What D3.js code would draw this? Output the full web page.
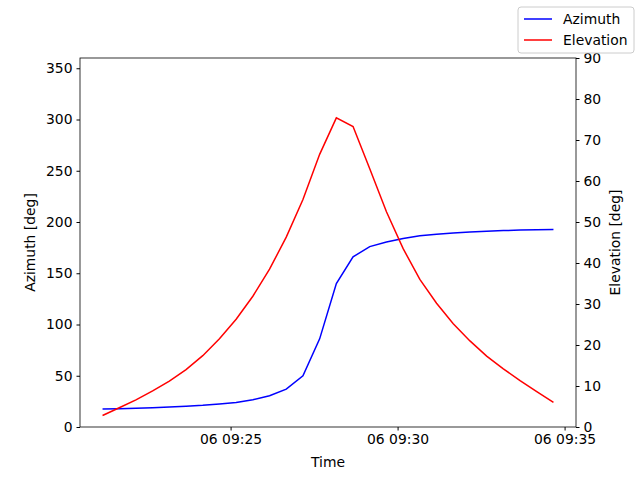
<!DOCTYPE html>
<html><head><meta charset="utf-8">
<script src="https://cdn.jsdelivr.net/npm/d3@7"></script>
<style>
body{margin:0;background:#fff;}
text{font-family:"DejaVu Sans",sans-serif;}
</style></head>
<body><svg id="chart" width="640" height="480"></svg>
<script>
// samples every 30 s starting 06 09:21:10
const startTime = new Date(2024, 0, 6, 9, 21, 10);
const stepSeconds = 30;
const azimuth = [17.5,17.8,18.3,18.8,19.5,20.3,21.2,22.5,24,26.5,30.5,37,50,86,140,166,176,180.5,184,186.5,188,189.3,190.3,191,191.6,192.1,192.5,192.8];
const elevation = [2.8,4.7,6.6,8.8,11.2,14,17.4,21.5,26.3,31.9,38.5,46.3,55.5,66.5,75.4,73.3,63,52.5,43.5,36,30.2,25.2,21,17.3,14.2,11.3,8.6,6.0];
const azTicks = [0,50,100,150,200,250,300,350];
const elTicks = [0,10,20,30,40,50,60,70,80,90];
const timeTicks = [new Date(2024,0,6,9,25), new Date(2024,0,6,9,30), new Date(2024,0,6,9,35)];

const times = azimuth.map((_, i) => new Date(startTime.getTime() + i * stepSeconds * 1000));
const data = times.map((t, i) => ({t, az: azimuth[i], el: elevation[i]}));

const margin = {top: 58, right: 64, bottom: 53, left: 80};
const width = 640, height = 480;
const iw = width - margin.left - margin.right, ih = height - margin.top - margin.bottom;
const svg = d3.select("#chart");
const g = svg.append("g").attr("transform", `translate(${margin.left},${margin.top})`);

const ext = d3.extent(times);
const pad = (ext[1] - ext[0]) * 0.05;
const x = d3.scaleTime().domain([ext[0] - pad, +ext[1] + pad]).range([0, iw]);
const yL = d3.scaleLinear().domain([0, 360]).range([ih, 0]);
const yR = d3.scaleLinear().domain([0, 90]).range([ih, 0]);

const fs = "13.9px";
function style(ax){ ax.selectAll("text").style("font-size", fs).attr("fill","#000"); ax.selectAll("line").attr("stroke","#000"); ax.select(".domain").remove(); }

g.append("g").attr("transform", `translate(0,${ih})`)
  .call(d3.axisBottom(x).tickValues(timeTicks).tickFormat(d3.timeFormat("%d %H:%M")).tickSize(3.5).tickPadding(4)).call(style);
g.append("g").call(d3.axisLeft(yL).tickValues(azTicks).tickSize(3.5).tickPadding(4)).call(style);
g.append("g").attr("transform", `translate(${iw},0)`)
  .call(d3.axisRight(yR).tickValues(elTicks).tickSize(3.5).tickPadding(4)).call(style);

g.append("rect").attr("width", iw).attr("height", ih).attr("fill","none").attr("stroke","#000").attr("stroke-width",0.8);

g.append("path").datum(data).attr("fill","none").attr("stroke","blue").attr("stroke-width",1.5)
  .attr("d", d3.line().x(d => x(d.t)).y(d => yL(d.az)));
g.append("path").datum(data).attr("fill","none").attr("stroke","red").attr("stroke-width",1.5)
  .attr("d", d3.line().x(d => x(d.t)).y(d => yR(d.el)));

svg.append("text").attr("x", margin.left + iw/2).attr("y", 467).attr("text-anchor","middle").style("font-size", fs).text("Time");
svg.append("text").attr("transform", `translate(35,${margin.top + ih/2}) rotate(-90)`).attr("text-anchor","middle").style("font-size", fs).text("Azimuth [deg]");
svg.append("text").attr("transform", `translate(620,${margin.top + ih/2}) rotate(-90)`).attr("text-anchor","middle").style("font-size", fs).text("Elevation [deg]");

// legend
const legendData = [{name:"Azimuth", color:"blue"}, {name:"Elevation", color:"red"}];
const lg = svg.append("g").attr("transform","translate(518,7)");
lg.append("rect").attr("width",116).attr("height",46).attr("rx",3).attr("fill","#fff").attr("stroke","#ccc");
lg.selectAll("line.l").data(legendData).enter().append("line")
  .attr("x1",6).attr("x2",34).attr("y1",(d,i)=>12+i*21).attr("y2",(d,i)=>12+i*21)
  .attr("stroke",d=>d.color).attr("stroke-width",1.5);
lg.selectAll("text").data(legendData).enter().append("text")
  .attr("x",45).attr("y",(d,i)=>17+i*21).style("font-size",fs).text(d=>d.name);
</script></body></html>
